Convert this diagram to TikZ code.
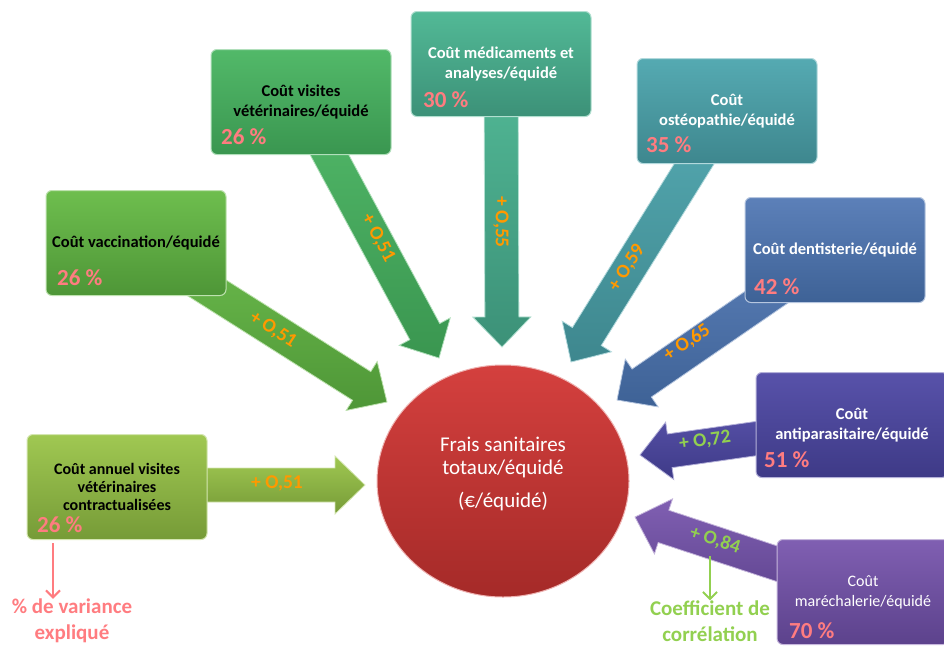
\documentclass[tikz,border=0pt]{standalone}
\usepackage{fontspec}
\setmainfont{Carlito}
\usetikzlibrary{calc,arrows.meta,shapes.geometric,backgrounds}

\definecolor{pctpink}{HTML}{FF7C80}
\definecolor{lblorange}{HTML}{FF9900}
\definecolor{lblgreen}{HTML}{92D050}
\definecolor{vacT}{RGB}{110,190,78}\definecolor{vacB}{RGB}{78,150,55}
\definecolor{visT}{RGB}{82,185,105}\definecolor{visB}{RGB}{58,150,80}
\definecolor{medT}{RGB}{82,185,150}\definecolor{medB}{RGB}{60,145,120}
\definecolor{ostT}{RGB}{85,170,178}\definecolor{ostB}{RGB}{62,135,142}
\definecolor{denT}{RGB}{92,128,185}\definecolor{denB}{RGB}{62,98,150}
\definecolor{antT}{RGB}{88,82,170}\definecolor{antB}{RGB}{62,58,135}
\definecolor{marT}{RGB}{128,95,178}\definecolor{marB}{RGB}{92,66,140}
\definecolor{conT}{RGB}{160,200,82}\definecolor{conB}{RGB}{118,155,55}
\definecolor{redT}{RGB}{212,64,62}\definecolor{redB}{RGB}{165,42,40}

\newcommand\blockarrow[3]{%
  \coordinate (ba) at ($(#2)!30pt!(#1)$);
  \path[#3] ($(#1)!17pt!90:(#2)$) -- ($(ba)!17pt!90:(#2)$) -- ($(ba)!29pt!90:(#2)$)
    -- (#2) -- ($(ba)!29pt!-90:(#2)$) -- ($(ba)!17pt!-90:(#2)$) -- ($(#1)!17pt!-90:(#2)$) -- cycle;}

\tikzset{
  box/.style={rounded corners=6pt, minimum width=180pt, minimum height=105pt,
    align=center, font=\fontsize{16.5}{20}\selectfont\bfseries, inner sep=2pt, line width=1pt},
  gbox/.style 2 args={box, top color=#1, bottom color=#2, draw=white!55!#1},
  barrow/.style 2 args={top color=#1, bottom color=#2, draw=white!55!#1, line width=0.8pt},
  pct/.style={anchor=west, font=\fontsize{23}{23}\selectfont\bfseries, text=pctpink, inner sep=0pt},
  corr/.style={font=\fontsize{19.5}{19.5}\selectfont\bfseries, inner sep=0pt},
  note/.style={font=\fontsize{21}{26}\selectfont\bfseries, align=center, inner sep=0pt},
  thin arrow/.style={line width=2pt, -{Straight Barb[length=7pt,width=14pt]}}
}

\begin{document}
\begin{tikzpicture}[x=1pt,y=-1pt]
\useasboundingbox (0,0) rectangle (944,648);

% central ellipse
\node[ellipse, minimum width=252pt, minimum height=232pt, top color=redT, bottom color=redB,
  draw=white!60!redT, line width=1pt] (ctr) at (503,481) {};
\node[text=white, align=center, font=\fontsize{21}{22.5}\selectfont, inner sep=0pt] (ctrtxt) at (503,474)
  {Frais sanitaires\\totaux/équidé\\[11pt](€/équidé)};

% boxes
\node[gbox={vacT}{vacB}] (vac) at (136,243) {Coût vaccination/équidé};
\node[gbox={visT}{visB}] (vis) at (301,102) {Coût visites\\vétérinaires/équidé};
\node[gbox={medT}{medB}, text=white] (med) at (501,64) {Coût médicaments et\\analyses/équidé};
\node[gbox={ostT}{ostB}, text=white] (ost) at (727,111) {Coût\\ostéopathie/équidé};
\node[gbox={denT}{denB}, text=white] (den) at (835,250) {Coût dentisterie/équidé};
\node[gbox={antT}{antB}, text=white, minimum width=192pt] (ant) at (852,425) {Coût\\antiparasitaire/équidé};
\node[gbox={marT}{marB}, text=white, minimum width=172pt, font=\fontsize{16}{20}\selectfont] (mar) at (863,592) {Coût\\maréchalerie/équidé};
\node[gbox={conT}{conB}, font=\fontsize{16}{18}\selectfont\bfseries] (con) at (117,487) {Coût annuel visites\\vétérinaires\\contractualisées};

% percentages
\node[pct] (pvac) at (57,278) {26 \%};
\node[pct] (pvis) at (221,137) {26 \%};
\node[pct] (pmed) at (423,100) {30 \%};
\node[pct] (post) at (646,145) {35 \%};
\node[pct] (pden) at (754,287) {42 \%};
\node[pct] (pant) at (764,460) {51 \%};
\node[pct] (pmar) at (789,631) {70 \%};
\node[pct] (pcon) at (37,525) {26 \%};

% arrow tips
\coordinate (tvac) at (387,402);
\coordinate (tvis) at (439,358);
\coordinate (tmed) at (502,347);
\coordinate (tost) at (571,362);
\coordinate (tden) at (617,400);
\coordinate (tant) at (640,455);
\coordinate (tmar) at (635,517);
\coordinate (tcon) at (365,485);

\begin{pgfonlayer}{background}
\blockarrow{vac}{tvac}{barrow={vacT}{vacB}}
\blockarrow{vis}{tvis}{barrow={visT}{visB}}
\blockarrow{med}{tmed}{barrow={medT}{medB}}
\blockarrow{ost}{tost}{barrow={ostT}{ostB}}
\blockarrow{den}{tden}{barrow={denT}{denB}}
\blockarrow{ant}{tant}{barrow={antT}{antB}}
\blockarrow{mar}{tmar}{barrow={marT}{marB}}
\coordinate (scon) at (117,485);
\blockarrow{scon}{tcon}{barrow={conT}{conB}}
\end{pgfonlayer}

% correlation labels
\node[corr, text=lblorange, rotate=-33] (cvac) at (273,330) {+ O,51};
\node[corr, text=lblorange, rotate=-62] (cvis) at (378,238) {+ O,51};
\node[corr, text=lblorange, rotate=-90] (cmed) at (501,222) {+ O,55};
\node[corr, text=lblorange, rotate=58] (cost) at (627,268) {+ O,59};
\node[corr, text=lblorange, rotate=34] (cden) at (687,343) {+ O,65};
\node[corr, text=lblgreen, rotate=8] (cant) at (705,441) {+ O,72};
\node[corr, text=lblgreen, rotate=-18] (cmar) at (715,540) {+ O,84};
\node[corr, text=lblorange] (ccon) at (277,483) {+ O,51};

% legends
\node[note, text=pctpink] (varlab) at (72,621) {\% de variance\\expliqué};
\node[note, text=lblgreen] (corlab) at (710,621) {Coefficient de\\corrélation};
\coordinate (vstart) at (53,543);
\draw[thin arrow, pctpink] (vstart) -- (vstart |- varlab.north);
\coordinate (cstart) at (710,556);
\draw[thin arrow, lblgreen] (cstart) -- (cstart |- corlab.north);
\end{tikzpicture}
\end{document}
